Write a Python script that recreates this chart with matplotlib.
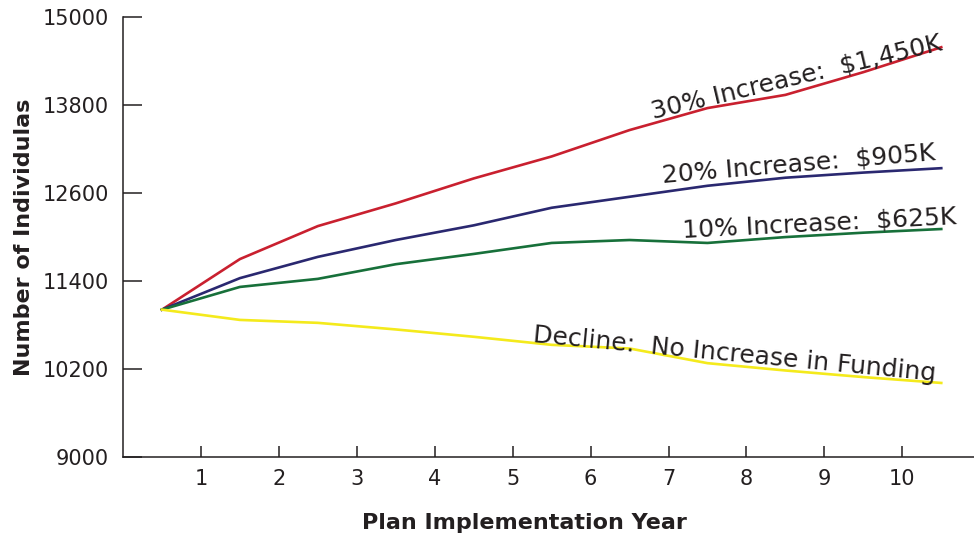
import numpy as np
import matplotlib
matplotlib.use("Agg")
import matplotlib.pyplot as plt

# plan years (points sit between the year ticks)
years = [0.5, 1.5, 2.5, 3.5, 4.5, 5.5, 6.5, 7.5, 8.5, 9.5, 10.5]

inc_30 = [11010, 11700, 12150, 12460, 12800, 13100, 13460, 13760, 13940, 14250, 14590]
inc_20 = [11010, 11440, 11730, 11960, 12160, 12400, 12550, 12700, 12810, 12880, 12940]
inc_10 = [11010, 11320, 11430, 11630, 11770, 11920, 11960, 11920, 12000, 12060, 12110]
decline = [11010, 10870, 10830, 10740, 10640, 10530, 10480, 10280, 10180, 10090, 10010]

ytick_vals = [9000, 10200, 11400, 12600, 13800, 15000]
xtick_vals = [1, 2, 3, 4, 5, 6, 7, 8, 9, 10]

ink = '#231f20'
plt.rcParams['font.family'] = ['DejaVu Sans']

fig = plt.figure(figsize=(9.74, 5.37), dpi=100)
ax = fig.add_axes([0.1263, 0.149, 0.8737, 0.819])

ax.plot(years, inc_30, color='#c9202f', lw=1.9)
ax.plot(years, inc_20, color='#2a2870', lw=1.9)
ax.plot(years, inc_10, color='#17703a', lw=1.9)
ax.plot(years, decline, color='#f4ea1c', lw=1.9)

ax.set_xlim(0, 10.92)
ax.set_ylim(9000, 15000)
ax.set_xticks(xtick_vals)
ax.set_yticks(ytick_vals)

for s in ['top', 'right']:
    ax.spines[s].set_visible(False)
for s in ['left', 'bottom']:
    ax.spines[s].set_color(ink)
    ax.spines[s].set_linewidth(1.1)

ax.tick_params(axis='y', direction='in', length=14, width=1.1, color=ink,
               labelsize=15, labelcolor=ink, pad=10)
ax.tick_params(axis='x', direction='in', length=8, width=1.1, color=ink,
               labelsize=15, labelcolor=ink, pad=9)

ax.set_ylabel('Number of Individulas', fontsize=16, fontweight='bold', color=ink)
ax.yaxis.set_label_coords(-0.105, 0.5)
ax.set_xlabel('Plan Implementation Year', fontsize=16, fontweight='bold', color=ink)
ax.xaxis.set_label_coords(0.472, -0.128)

# labels along each line
lab = dict(fontsize=18, color=ink, ha='left', va='baseline', rotation_mode='anchor')
ax.text(6.8, 13620, '30% Increase:  $1,450K', rotation=13.4, **lab)
ax.text(6.93, 12740, '20% Increase:  $905K', rotation=4.8, **lab)
ax.text(7.18, 12000, '10% Increase:  $625K', rotation=2.9, **lab)
ax.text(5.26, 10570, 'Decline:  No Increase in Funding', rotation=-5.5, **lab)

fig.savefig('out.png', dpi=100)
